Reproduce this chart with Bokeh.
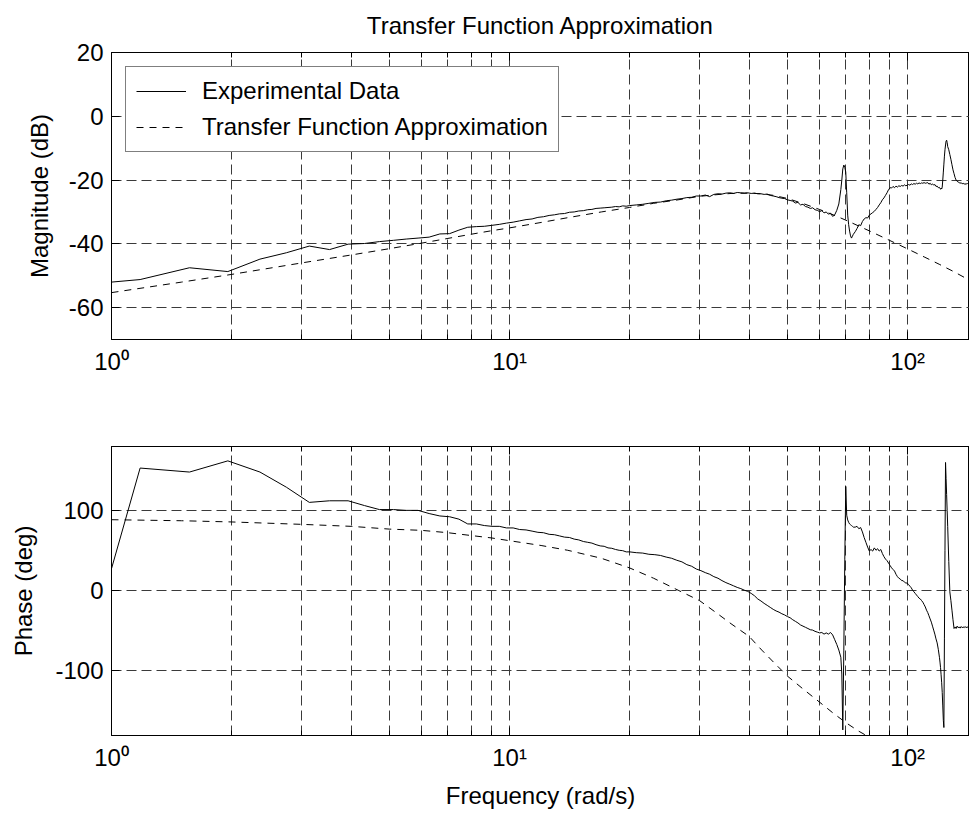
from bokeh.plotting import figure
from bokeh.layouts import column
from bokeh.models import Range1d, FixedTicker, LogAxis
from bokeh.embed import file_html
from bokeh.resources import INLINE

FONT = "Liberation Sans"
GRID = "#3a3a3a"

# Measured frequency response (rad/s, dB, deg)
w_exp = [
    1.00, 1.18, 1.57, 1.96, 2.36, 2.75, 3.14, 3.53, 3.93, 4.32,
    4.71, 5.11, 5.50, 5.89, 6.28, 6.68, 7.07, 7.46, 7.85, 8.25,
    8.64, 9.03, 9.42, 9.82, 10.21, 10.60, 11.00, 11.39, 11.78, 12.17,
    12.57, 12.96, 13.35, 13.74, 14.14, 14.53, 14.92, 15.32, 15.71, 16.10,
    16.49, 16.89, 17.28, 17.67, 18.06, 18.46, 18.85, 19.24, 19.63, 20.03,
    20.81, 21.60, 22.38, 23.17, 23.95, 24.74, 25.53, 26.31, 27.10, 27.88,
    28.67, 29.45, 30.24, 31.02, 31.81, 32.59, 33.38, 34.16, 34.95, 35.74,
    36.52, 37.31, 38.09, 38.88, 39.66, 40.45, 41.23, 42.02, 42.80, 43.59,
    44.38, 45.16, 45.95, 46.73, 47.52, 48.30, 49.09, 49.87, 50.66, 51.44,
    52.23, 53.01, 53.80, 54.58, 55.37, 56.16, 56.94, 57.73, 58.51, 59.30,
    60.08, 60.87, 61.65, 62.44, 63.22, 64.01, 64.80, 65.58, 66.37, 67.15,
    67.94, 68.33, 68.72, 69.12, 69.51, 69.90, 70.29, 70.69, 71.08, 71.47,
    71.86, 72.26, 72.65, 73.04, 73.83, 74.61, 75.40, 76.18, 76.97, 77.75,
    78.54, 79.33, 80.11, 80.90, 81.68, 82.47, 83.25, 84.04, 84.82, 85.61,
    86.39, 87.18, 87.96, 88.75, 89.54, 90.32, 91.11, 91.89, 92.68, 93.46,
    94.25, 95.03, 95.82, 96.60, 97.39, 98.17, 98.96, 99.75, 100.53, 101.32,
    102.10, 102.89, 103.67, 104.46, 105.24, 106.03, 106.81, 107.60, 108.38, 109.17,
    109.96, 110.74, 111.53, 112.31, 113.10, 113.88, 114.67, 115.45, 116.24, 117.02,
    117.81, 118.60, 119.38, 120.17, 120.56, 120.95, 121.34, 121.74, 122.13, 122.52,
    122.92, 123.31, 123.70, 124.09, 124.49, 124.88, 125.27, 125.66, 126.06, 126.84,
    127.63, 128.41, 129.20, 129.98, 130.77, 131.55, 132.34, 133.13, 133.91, 134.70,
    135.48, 136.27, 137.05, 137.84, 138.62, 139.41, 140.19, 140.98, 141.76, 142.55,
]

mag_exp = [
    -52.0, -51.2, -47.5, -48.7, -44.8, -42.8, -40.7, -41.8, -40.1, -39.9,
    -39.3, -38.9, -38.5, -38.2, -37.9, -36.9, -36.8, -35.7, -34.8, -34.6,
    -34.5, -34.2, -33.9, -33.5, -33.2, -32.8, -32.4, -32.2, -31.7, -31.5,
    -31.1, -30.9, -30.6, -30.5, -30.1, -30.0, -29.7, -29.6, -29.3, -29.2,
    -28.9, -28.8, -28.7, -28.6, -28.5, -28.3, -28.4, -28.1, -28.2, -28.0,
    -27.8, -27.6, -27.3, -27.0, -26.9, -26.5, -26.3, -26.0, -25.8, -25.5,
    -25.4, -25.0, -25.0, -24.7, -25.2, -24.5, -24.3, -24.4, -24.1, -24.0,
    -24.2, -23.9, -24.0, -24.1, -24.0, -24.2, -24.1, -24.3, -24.3, -24.5,
    -24.4, -24.8, -25.0, -25.2, -25.5, -25.7, -25.8, -26.2, -26.4, -26.6,
    -27.2, -27.0, -27.8, -27.6, -28.3, -28.5, -28.9, -28.7, -29.3, -29.5,
    -29.9, -29.6, -30.3, -30.0, -30.7, -30.4, -31.4, -30.9, -29.5, -27.5,
    -23.0, -20.0, -16.5, -15.3, -16.0, -17.5, -24.0, -31.0, -34.0, -36.0,
    -37.5, -38.2, -37.6, -37.0, -36.2, -35.2, -34.0, -34.3, -33.0, -32.2,
    -31.8, -31.9, -31.0, -30.6, -30.2, -29.8, -29.2, -28.6, -27.8, -27.1,
    -26.2, -25.6, -24.8, -24.0, -23.0, -22.4, -22.5, -22.0, -22.4, -21.9,
    -22.2, -21.8, -22.0, -21.7, -21.9, -21.5, -21.8, -21.6, -21.4, -21.6,
    -21.2, -21.4, -21.1, -21.3, -21.0, -21.2, -20.9, -21.1, -20.9, -21.0,
    -20.8, -21.0, -20.9, -20.8, -21.3, -21.0, -21.5, -21.2, -21.6, -21.4,
    -22.0, -21.9, -22.4, -22.3, -22.6, -22.9, -22.5, -22.8, -22.2, -20.0,
    -17.5, -15.0, -12.5, -10.5, -9.0, -7.8, -7.5, -8.2, -9.5, -10.5,
    -12.0, -13.5, -15.2, -16.8, -18.0, -19.2, -20.0, -20.4, -20.6, -20.8,
    -21.0, -20.8, -21.2, -21.0, -21.3, -21.1, -21.4, -21.0, -21.3, -21.1,
]

phase_exp = [
    27, 153, 148, 162, 148, 129, 110, 112, 112, 106,
    101, 101, 100, 100, 96, 93, 92, 89, 83, 83,
    81, 80, 80, 78, 78, 76, 75.5, 74, 72.5, 72,
    70, 69.5, 68, 66.5, 66, 64, 63, 61, 60, 59,
    57, 55.5, 55, 53, 52.5, 51, 50, 49.5, 48, 48,
    47, 46.5, 45, 44.5, 43.5, 41.5, 40, 37.5, 35.5, 32,
    30, 26.5, 24.5, 22, 20, 17, 15, 12, 9.5, 7.5,
    5.5, 3.5, 2, 0, -1.5, -4, -7, -11, -13.5, -16.5,
    -19, -21.5, -24, -26, -27.5, -29.5, -31, -33, -34.5, -37,
    -39, -41, -43.5, -45, -46.5, -48, -49.5, -50, -51.5, -52.5,
    -53.5, -53, -55, -53.5, -55, -53, -56, -62, -68, -75,
    -84, -105, -175, -75, 38, 130, 94, 88, 85, 83,
    82, 81, 80, 79, 79, 80, 77, 78.5, 73, 66,
    60, 54, 49, 51, 49, 53, 50, 52, 49, 51,
    46, 42, 39, 37, 34, 31, 28, 26, 24, 20,
    17, 15, 14, 12, 12, 10, 9, 9, 7, 5,
    3, 0, -2, -4, -6, -8, -10, -11, -13, -15,
    -18, -21, -25, -28, -32, -36, -40, -45, -50, -55,
    -61, -66, -74, -84, -90, -97, -106, -116, -128, -145,
    -163, -172, -60, 50, 160, 140, 120, 100, 80, 36,
    -2, -13, -25, -37, -48, -46, -48, -45, -47, -46,
    -47.5, -45.5, -47, -46, -47, -45.5, -47, -46, -46.5, -46,
]

# Fitted transfer function response (rad/s, dB, deg)
w_tf = [1, 1.5, 2, 3, 4, 5, 6, 7, 8, 9, 10, 12, 14, 17, 20, 23, 26.5, 30,
        33, 36, 40, 43, 46, 50, 55, 60, 65, 70, 75, 80, 90, 100, 110, 120,
        130, 143]
mag_tf = [-55.3, -52.0, -49.6, -46.0, -43.5, -41.5, -39.8, -38.3, -37.0,
          -35.9, -35.0, -33.3, -31.8, -30.0, -28.6, -27.3, -26.2, -25.1,
          -24.6, -24.2, -24.1, -24.3, -24.8, -25.8, -27.5, -29.2, -30.9,
          -32.6, -34.3, -35.9, -38.9, -41.6, -44.1, -46.4, -48.6, -51.4]
phase_tf = [88.3, 87, 85.5, 82.5, 80, 76.5, 75, 72, 68.5, 65.5, 62, 56,
            50, 40, 28, 15, 0, -13, -28, -42, -58, -75, -90, -108, -125,
            -140, -154, -166, -176, -184, -198, -210, -220, -228, -235, -242]

# Axis ticks
x_major = [1, 10, 100]
x_minor = [2, 3, 4, 5, 6, 7, 8, 9, 20, 30, 40, 50, 60, 70, 80, 90]
x_labels = {1: "10\u2070", 10: "10\u00b9", 100: "10\u00b2"}
mag_ticks = [-60, -40, -20, 0, 20]
phase_ticks = [-100, 0, 100]


def make_ticker():
    return FixedTicker(ticks=x_major, minor_ticks=x_minor)


def style(p, yticks, ylabel_standoff):
    p.background_fill_color = "white"
    p.border_fill_color = "white"
    p.outline_line_color = "black"
    p.outline_line_width = 1
    p.outline_line_alpha = 1

    xa = p.xaxis[0]
    xa.ticker = make_ticker()
    xa.major_label_overrides = x_labels
    xa.major_label_text_font = FONT
    xa.major_label_text_font_size = "24px"
    xa.major_label_text_color = "black"
    xa.major_label_standoff = 8
    xa.axis_line_color = "black"
    xa.major_tick_line_color = "black"
    xa.minor_tick_line_color = "black"
    xa.major_tick_in = 8
    xa.major_tick_out = 0
    xa.minor_tick_in = 5
    xa.minor_tick_out = 0
    xa.axis_label_text_font = FONT
    xa.axis_label_text_font_size = "24px"
    xa.axis_label_text_font_style = "normal"
    xa.axis_label_text_color = "black"
    xa.axis_label_standoff = 8

    ya = p.yaxis[0]
    ya.ticker = FixedTicker(ticks=yticks)
    # plain hyphen for negative values
    ya.major_label_overrides = {t: str(t) for t in yticks}
    ya.major_label_text_font = FONT
    ya.major_label_text_font_size = "24px"
    ya.major_label_text_color = "black"
    ya.major_label_standoff = 8
    ya.axis_line_color = "black"
    ya.major_tick_line_color = "black"
    ya.major_tick_in = 8
    ya.major_tick_out = 0
    ya.minor_tick_line_color = None
    ya.axis_label_text_font = FONT
    ya.axis_label_text_font_size = "24px"
    ya.axis_label_text_font_style = "normal"
    ya.axis_label_text_color = "black"
    ya.axis_label_standoff = ylabel_standoff

    # inward ticks along the top edge of the box
    top = LogAxis(ticker=make_ticker(), major_label_text_font_size="1px",
                  major_label_text_alpha=0, major_label_standoff=0,
                  major_tick_in=8, major_tick_out=0,
                  minor_tick_in=5, minor_tick_out=0, axis_line_color="black",
                  major_tick_line_color="black", minor_tick_line_color="black")
    p.add_layout(top, "above")

    for g in (p.xgrid[0], p.ygrid[0]):
        g.grid_line_color = GRID
        g.grid_line_dash = "10 5"
        g.grid_line_width = 1
        g.grid_line_alpha = 1
    p.ygrid[0].ticker = FixedTicker(ticks=yticks)
    p.xgrid[0].ticker = make_ticker()
    p.xgrid[0].minor_grid_line_color = GRID
    p.xgrid[0].minor_grid_line_dash = "10 5"
    p.xgrid[0].minor_grid_line_width = 1


# Magnitude plot
p1 = figure(width=969, height=400, x_axis_type="log",
            x_range=Range1d(1, 143), y_range=Range1d(-70, 20),
            output_backend="svg", toolbar_location=None,
            min_border_left=111, min_border_right=0,
            min_border_top=52, min_border_bottom=61)
p1.title.text = "Transfer Function Approximation"
p1.title.align = "center"
p1.title.vertical_align = "top"
p1.title.text_font = FONT
p1.title.text_font_size = "24px"
p1.title.text_font_style = "normal"
p1.title.text_color = "black"
p1.title.standoff = 23
p1.yaxis.axis_label = "Magnitude (dB)"
style(p1, mag_ticks, 13)

p1.line(w_exp, mag_exp, line_color="black", line_width=1,
        legend_label="Experimental Data")
p1.line(w_tf, mag_tf, line_color="black", line_width=1, line_dash="7 6",
        legend_label="Transfer Function Approximation")

lg = p1.legend[0]
lg.location = "top_left"
lg.margin = 14
lg.padding = 10
lg.spacing = 8
lg.label_height = 24
lg.glyph_height = 24
lg.glyph_width = 50
lg.label_standoff = 16
lg.label_text_font = FONT
lg.label_text_font_size = "24px"
lg.label_text_color = "black"
lg.border_line_color = "black"
lg.border_line_width = 1
lg.background_fill_color = "white"
lg.background_fill_alpha = 1

# Phase plot
p2 = figure(width=969, height=415, x_axis_type="log",
            x_range=Range1d(1, 143), y_range=Range1d(-182, 180),
            output_backend="svg", toolbar_location=None,
            min_border_left=111, min_border_right=0,
            min_border_top=46, min_border_bottom=80)
p2.xaxis.axis_label = "Frequency (rad/s)"
p2.yaxis.axis_label = "Phase (deg)"
style(p2, phase_ticks, 15)

p2.line(w_exp, phase_exp, line_color="black", line_width=1)
p2.line(w_tf, phase_tf, line_color="black", line_width=1, line_dash="7 6")

layout = column(p1, p2, spacing=0)
open("out.html", "w").write(file_html(layout, INLINE))
